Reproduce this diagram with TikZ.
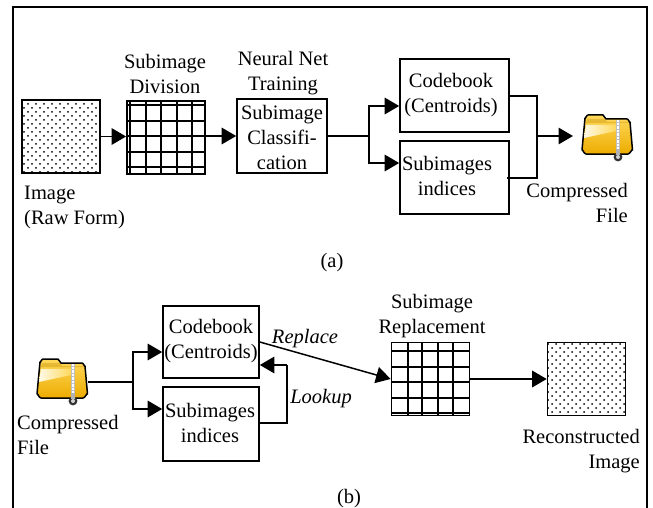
\documentclass[tikz,border=0pt]{standalone}
\usepackage{fontspec}
\setmainfont{Liberation Serif}
\usetikzlibrary{arrows.meta,patterns}
\pgfdeclarepatternformonly{rawdots}{\pgfqpoint{-1.5pt}{-1.5pt}}{\pgfqpoint{9.5pt}{9.5pt}}{\pgfqpoint{8pt}{8pt}}{
  \pgfpathcircle{\pgfqpoint{0pt}{0pt}}{1pt}
  \pgfpathcircle{\pgfqpoint{4pt}{4pt}}{1pt}
  \pgfusepath{fill}}
\definecolor{foldertop}{HTML}{FFD95C}
\definecolor{folderlow}{HTML}{EDAC00}
\tikzset{
  txt/.style={inner sep=0pt,yshift=-2pt,font=\fontsize{20.5}{25}\selectfont,align=center},
  itxt/.style={txt,font=\fontsize{20.5}{25}\selectfont\itshape},
  box/.style={draw=black,line width=1.6pt,inner sep=0pt},
  dotbox/.style={draw=black,line width=1.6pt,pattern=rawdots,minimum width=78pt,minimum height=73pt},
  gridbox/.style={draw=black,line width=1.8pt,minimum width=78pt,minimum height=73pt},
  gridline/.style={line width=1.4pt},
  conn/.style={line width=1.5pt},
  arr/.style={line width=1.5pt,-{Triangle[length=14.5pt,width=16.5pt]}},
  folderspot/.style={minimum width=51pt,minimum height=49pt,inner sep=0pt},
  pics/zipfolder/.style={code={
    \path[draw=black,line width=1.5pt,line join=round,top color=foldertop,bottom color=folderlow]
      (-25,14) -- (-22,-18) to[out=-80,in=180] (-19,-21) -- (-4,-21) -- (-1,-17) -- (20,-17)
      to[out=0,in=-100] (23,-14) -- (25.5,14) to[out=90,in=0] (21,18) -- (-21,18) to[out=180,in=90] cycle;
    \path[left color=white!85!foldertop,right color=foldertop] (-21,-11) -- (9,-11) -- (9,-5) -- (-23,2) -- cycle;
    \fill[folderlow!80!black,opacity=0.35] (-20,-17) -- (-2,-17) -- (0,-14) -- (22,-14) -- (22,-13) -- (-21,-13) -- cycle;
    \draw[gray!50,line width=3.6pt] (11,-16) -- (11,16);
    \draw[white,line width=1.2pt,dash pattern=on 0.7pt off 0.7pt] (11,-16) -- (11,16);
    \fill[black!80] (11,21) circle (4.4);
    \fill[gray!35] (11,21) circle (2);
    \fill[gray!60] (9,13) rectangle (13,19);
  }}
}
\begin{document}
\begin{tikzpicture}[x=1pt,y=-1pt]
  \useasboundingbox (0,0) rectangle (653,508);
  \draw[line width=1.8pt] (13,508) -- (13,7) -- (647,7) -- (647,508);

  % part (a)
  \node[dotbox] (rawimg) at (61,136.5) {};
  \node[gridbox] (divgrid) at (166,137.5) {};
  \foreach \v in {130,146,161,177,192} \draw[gridline] (\v,101) -- (\v,174);
  \foreach \h in {105,121,136,152,167} \draw[gridline] (127,\h) -- (205,\h);
  \node[box,minimum width=90pt,minimum height=74pt] (classify) at (282,136) {};
  \node[box,minimum width=109pt,minimum height=73pt] (cbooka) at (454.5,95.5) {};
  \node[box,minimum width=109pt,minimum height=73pt] (indexa) at (454.5,177.5) {};
  \node[folderspot] (filea) at (607,136) {};
  \pic at (filea) {zipfolder};

  \node[txt] (divtxt) at (165,71.5) {Subimage\\Division};
  \node[txt] (traintxt) at (283,71) {Neural Net\\Training};
  \node[txt] (classtxt) at (282,135) {Subimage\\Classifi-\\cation};
  \node[txt,align=left,anchor=west] (rawtxt) at (24,205.5) {Image\\(Raw Form)};
  \node[txt] (cbtxta) at (451,93.5) {Codebook\\(Centroids)};
  \node[txt] (idxtxta) at (447,173.5) {Subimages\\indices};
  \node[txt,align=right,anchor=east] (filetxta) at (628,200.5) {Compressed\\File};
  \node[txt] (capa) at (332,261) {(a)};

  \coordinate (splita) at (369,136);
  \coordinate (cbina) at (cbooka.west |- 0,106);
  \coordinate (idxina) at (indexa.west |- 0,163);
  \coordinate (cbouta) at (cbooka.east |- 0,96);
  \coordinate (idxouta) at (507,178);
  \coordinate (joina) at (537,136);
  \coordinate (cornera) at (537,96);
  \coordinate (cornerb) at (537,178);
  \draw[arr] (rawimg.east) -- (divgrid.west |- rawimg.east);
  \draw[arr] (divgrid.east |- classify.west) -- (classify.west);
  \draw[conn] (classify.east) -- (splita);
  \draw[arr] (splita) |- (cbina);
  \draw[arr] (splita) |- (idxina);
  \draw[conn] (cbouta) -- (cornera) -- (cornerb) -- (idxouta);
  \draw[arr] (joina) -- ++(36,0);

  % part (b)
  \node[folderspot] (fileb) at (62,380) {};
  \pic at (fileb) {zipfolder};
  \node[box,minimum width=96pt,minimum height=72pt] (cbookb) at (211,342) {};
  \node[box,minimum width=96pt,minimum height=74pt] (indexb) at (211,424) {};
  \node[gridbox] (repgrid) at (430.5,379) {};
  \foreach \v in {408,422,438,453} \draw[gridline] (\v,342) -- (\v,416);
  \foreach \h in {351,367,382,398,413} \draw[gridline] (391,\h) -- (470,\h);
  \node[dotbox] (recimg) at (586.5,379) {};

  \node[txt] (cbtxtb) at (211,339) {Codebook\\(Centroids)};
  \node[txt] (idxtxtb) at (210,420.5) {Subimages\\indices};
  \node[txt,align=left,anchor=west] (filetxtb) at (17,432.5) {Compressed\\File};
  \node[itxt] (reptxt) at (305,337) {Replace};
  \node[itxt] (looktxt) at (321,397) {Lookup};
  \node[txt] (subtxt) at (432,314.5) {Subimage\\Replacement};
  \node[txt,align=right,anchor=east] (rectxt) at (640,449.5) {Reconstructed\\Image};
  \node[txt] (capb) at (349,497) {(b)};

  \coordinate (splitb) at (133,382);
  \coordinate (cbinb) at (cbookb.west |- 0,352);
  \coordinate (idxinb) at (indexb.west |- 0,409);
  \coordinate (lookout) at (indexb.east |- 0,423);
  \coordinate (lookin) at (cbookb.east |- 0,365);
  \coordinate (repout) at (cbookb.east |- 0,342);
  \coordinate (lookup) at (287,423);
  \coordinate (lookdown) at (287,365);
  \draw[conn] (fileb.east |- splitb) -- (splitb);
  \draw[arr] (splitb) |- (cbinb);
  \draw[arr] (splitb) |- (idxinb);
  \draw[arr] (repout) -- (repgrid.west);
  \draw[conn] (lookout) -- (lookup) -- (lookdown);
  \draw[arr] (lookdown) -- (lookin);
  \draw[arr] (repgrid.east) -- (recimg.west);
\end{tikzpicture}
\end{document}
